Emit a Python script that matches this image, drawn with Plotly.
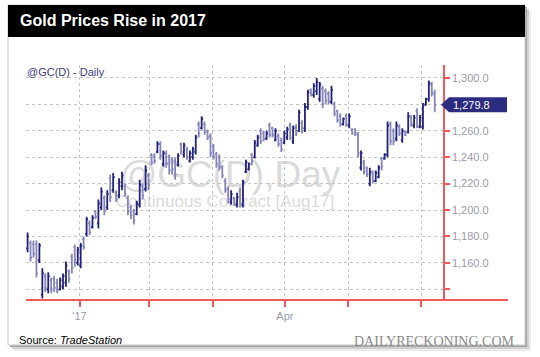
import plotly.graph_objects as go

# ---------------- data ----------------
opens = [1171, 1175, 1174, 1174, 1162, 1136, 1150, 1140, 1147, 1148, 1145, 1140, 1142, 1145, 1154,
         1165, 1172, 1160, 1158, 1178, 1182, 1190, 1187, 1199, 1190, 1202, 1209, 1202, 1224, 1215,
         1213, 1211, 1218, 1218, 1209, 1202, 1199, 1197, 1204, 1218, 1216, 1226, 1242, 1241, 1244,
         1250, 1235, 1243, 1240, 1238, 1237, 1234, 1250, 1242, 1246, 1237, 1240, 1244, 1265, 1262,
         1265, 1260, 1256, 1248, 1242, 1240, 1232, 1222, 1216, 1206, 1209, 1204, 1214, 1204, 1229,
         1231, 1242, 1240, 1249, 1260, 1258, 1254, 1264, 1262, 1253, 1256, 1253, 1251, 1255, 1264,
         1252, 1263, 1260, 1266, 1262, 1278, 1291, 1287, 1290, 1284, 1292, 1290, 1288, 1282, 1280,
         1275, 1271, 1265, 1271, 1264, 1261, 1261, 1257, 1232, 1236, 1232, 1220, 1228, 1222, 1225,
         1239, 1239, 1242, 1265, 1260, 1254, 1263, 1253, 1259, 1259, 1270, 1264, 1275, 1263, 1263,
         1280, 1284, 1295, 1288]
highs = [1183, 1177, 1177, 1177, 1175, 1156, 1152, 1153, 1149, 1150, 1148, 1149, 1152, 1161, 1155,
         1167, 1174, 1172, 1175, 1180, 1195, 1192, 1196, 1200, 1208, 1217, 1211, 1215, 1227, 1228,
         1215, 1224, 1229, 1220, 1211, 1204, 1201, 1207, 1223, 1220, 1234, 1228, 1243, 1243, 1252,
         1252, 1245, 1245, 1242, 1240, 1240, 1243, 1251, 1251, 1248, 1245, 1248, 1257, 1267, 1271,
         1267, 1261, 1258, 1250, 1244, 1242, 1234, 1224, 1218, 1215, 1210, 1213, 1217, 1223, 1238,
         1236, 1243, 1253, 1257, 1262, 1260, 1260, 1266, 1263, 1262, 1258, 1255, 1260, 1263, 1266,
         1264, 1265, 1276, 1268, 1281, 1291, 1292, 1296, 1300, 1297, 1294, 1292, 1290, 1294, 1282,
         1276, 1273, 1270, 1273, 1273, 1262, 1262, 1259, 1245, 1238, 1233, 1232, 1230, 1230, 1234,
         1240, 1243, 1267, 1267, 1262, 1267, 1265, 1262, 1260, 1274, 1272, 1272, 1277, 1272, 1281,
         1285, 1298, 1297, 1291]
lows = [1168, 1161, 1164, 1149, 1160, 1133, 1138, 1137, 1137, 1138, 1137, 1139, 1140, 1142, 1145,
        1152, 1157, 1158, 1156, 1170, 1180, 1181, 1186, 1193, 1186, 1200, 1196, 1200, 1206, 1213,
        1206, 1209, 1215, 1210, 1196, 1193, 1189, 1196, 1202, 1208, 1214, 1215, 1234, 1235, 1243,
        1238, 1233, 1232, 1227, 1227, 1223, 1233, 1242, 1240, 1238, 1236, 1238, 1242, 1255, 1261,
        1257, 1253, 1240, 1238, 1232, 1230, 1224, 1213, 1205, 1204, 1203, 1202, 1202, 1202, 1228,
        1230, 1234, 1239, 1248, 1250, 1252, 1253, 1255, 1255, 1252, 1248, 1244, 1250, 1253, 1253,
        1250, 1256, 1259, 1258, 1259, 1276, 1286, 1285, 1287, 1282, 1277, 1280, 1280, 1280, 1271,
        1266, 1263, 1264, 1263, 1262, 1257, 1256, 1240, 1230, 1227, 1225, 1218, 1220, 1221, 1224,
        1230, 1238, 1240, 1249, 1249, 1252, 1256, 1251, 1256, 1258, 1263, 1262, 1262, 1262, 1261,
        1279, 1282, 1286, 1274]
closes = [1180, 1164, 1167, 1152, 1173, 1152, 1141, 1150, 1140, 1141, 1139, 1147, 1150, 1158, 1148,
          1156, 1162, 1170, 1173, 1172, 1193, 1183, 1194, 1195, 1205, 1214, 1199, 1212, 1210, 1225,
          1208, 1221, 1226, 1212, 1199, 1196, 1192, 1205, 1219, 1211, 1230, 1219, 1236, 1237, 1250,
          1241, 1243, 1235, 1230, 1231, 1227, 1241, 1244, 1249, 1240, 1243, 1246, 1255, 1258, 1269,
          1259, 1255, 1243, 1240, 1235, 1233, 1226, 1215, 1208, 1212, 1205, 1210, 1205, 1221, 1236,
          1235, 1237, 1251, 1255, 1252, 1254, 1258, 1257, 1257, 1260, 1250, 1246, 1258, 1261, 1255,
          1262, 1258, 1274, 1260, 1278, 1289, 1288, 1294, 1297, 1295, 1280, 1283, 1282, 1291, 1273,
          1268, 1265, 1269, 1265, 1271, 1258, 1258, 1243, 1243, 1229, 1227, 1229, 1222, 1228, 1232,
          1233, 1242, 1264, 1252, 1252, 1264, 1258, 1260, 1257, 1271, 1265, 1270, 1264, 1270, 1279,
          1284, 1296, 1289, 1279.8]
bars = list(range(len(closes)))          # trading-day index

month_tick_idx = [17.6, 41.3, 62.7, 87.2, 108.6, 133.5]
month_tick_text = ["'17", "", "", "Apr", "", ""]

price_tick_vals = [1140, 1160, 1180, 1200, 1220, 1240, 1260, 1280, 1300]
price_tick_text = ["", "1,160.0", "1,180.0", "1,200.0", "1,220.0", "1,240.0", "1,260.0", "", "1,300.0"]
last_price = 1279.8
last_price_text = "1,279.8"

# ---------------- layout helpers ----------------
L, R, T, B = 26, 443, 65, 300
W, H = R - L, B - T
Y0, Y1 = 1131.9, 1309.8
X0, X1 = -0.54, 140.8

def px(x):
    return (x - L) / W

def py(y):
    return (B - y) / H

NAVY = "#22227a"
LIGHT = "#8585b8"
RED = "#ee5a5a"
GRID = "#c4c4c4"
FONT = "Liberation Sans, Arial, sans-serif"

fig = go.Figure()
fig.add_trace(go.Ohlc(
    x=bars, open=opens, high=highs, low=lows, close=closes,
    increasing=dict(line=dict(color=NAVY, width=1.8)),
    decreasing=dict(line=dict(color=LIGHT, width=1.8)),
    tickwidth=0.5, hoverinfo="skip", showlegend=False,
))

shapes = []
# card shadow
for off, col in [(6, "#ececec"), (4, "#d0d0d0"), (2, "#a8a8a8")]:
    shapes.append(dict(type="rect", xref="paper", yref="paper", layer="below",
                       x0=px(8 + off), x1=px(525 + off), y0=py(345 + off), y1=py(5 + off),
                       line=dict(width=0), fillcolor=col))
# card
shapes.append(dict(type="rect", xref="paper", yref="paper", layer="below",
                   x0=px(8), x1=px(525), y0=py(345), y1=py(5),
                   line=dict(width=1, color="#c8c8c8"), fillcolor="white"))
# title bar
shapes.append(dict(type="rect", xref="paper", yref="paper", layer="below",
                   x0=px(8), x1=px(525), y0=py(37), y1=py(5),
                   line=dict(width=0), fillcolor="black"))
# watermark
shapes.append(dict(type="rect", xref="paper", yref="paper", layer="below",
                   x0=px(110), x1=px(350), y0=py(188), y1=py(152),
                   line=dict(width=0), fillcolor="rgba(0,0,0,0)",
                   label=dict(text="@GC(D),Day", font=dict(family=FONT, size=37, color="#dadada"),
                              textposition="middle center")))
shapes.append(dict(type="rect", xref="paper", yref="paper", layer="below",
                   x0=px(100), x1=px(350), y0=py(209), y1=py(189),
                   line=dict(width=0), fillcolor="rgba(0,0,0,0)",
                   label=dict(text="Continuous Contract [Aug17]", font=dict(family=FONT, size=17, color="#dadada"),
                              textposition="middle center")))
# bottom axis line, extended under the price labels
shapes.append(dict(type="line", xref="paper", yref="paper", layer="above",
                   x0=px(26), x1=px(508), y0=0, y1=0, line=dict(color=RED, width=2)))
# last price marker
ylp = (last_price - Y0) / (Y1 - Y0)
hh = 7.5 / H
shapes.append(dict(type="path", xref="paper", yref="paper", layer="above",
                   path=f"M {px(441)} {ylp} L {px(449)} {ylp + hh} L {px(507)} {ylp + hh} "
                        f"L {px(507)} {ylp - hh} L {px(449)} {ylp - hh} Z",
                   line=dict(width=0), fillcolor="#2b2b80"))

annotations = [
    dict(text="<b>Gold Prices Rise in 2017</b>", xref="paper", yref="paper", x=px(18), y=py(21),
         xanchor="left", yanchor="middle", showarrow=False, font=dict(family=FONT, size=16, color="white")),
    dict(text="@GC(D) - Daily", xref="paper", yref="paper", x=px(25), y=py(72),
         xanchor="left", yanchor="middle", showarrow=False, font=dict(family=FONT, size=11, color="#3a3a80")),
    dict(text=last_price_text, xref="paper", yref="paper", x=px(451), y=ylp,
         xanchor="left", yanchor="middle", showarrow=False, font=dict(family=FONT, size=11, color="white")),
    dict(text="Source: <i>TradeStation</i>", xref="paper", yref="paper", x=px(17), y=py(340),
         xanchor="left", yanchor="middle", showarrow=False, font=dict(family=FONT, size=11, color="black")),
    dict(text="DAILYRECKONING.COM", xref="paper", yref="paper", x=px(517), y=py(341),
         xanchor="right", yanchor="middle", showarrow=False,
         font=dict(family="Liberation Serif, Times New Roman, serif", size=14, color="#8a8a8a")),
]

fig.update_layout(
    width=540, height=357, autosize=False,
    margin=dict(l=L, r=540 - R, t=T, b=357 - B, pad=0),
    paper_bgcolor="white", plot_bgcolor="rgba(0,0,0,0)",
    shapes=shapes, annotations=annotations, showlegend=False,
    xaxis=dict(range=[X0, X1], rangeslider=dict(visible=False), showline=False, zeroline=False,
               tickmode="array", tickvals=month_tick_idx, ticktext=month_tick_text,
               ticks="outside", ticklen=6, tickwidth=1.5, tickcolor=RED,
               tickfont=dict(family=FONT, size=11, color="#9a9aaa"),
               showgrid=True, gridcolor=GRID, griddash="dot", gridwidth=1),
    yaxis=dict(range=[Y0, Y1], side="right", showline=True, linecolor=RED, linewidth=1.5,
               zeroline=False, tickmode="array", tickvals=price_tick_vals, ticktext=price_tick_text,
               ticks="outside", ticklen=5, tickwidth=1.5, tickcolor=RED,
               tickfont=dict(family=FONT, size=11, color="#9a9aaa"),
               showgrid=True, gridcolor=GRID, griddash="dot", gridwidth=1),
)

fig.write_html("out.html", config={"displayModeBar": False},
               post_script="document.body.style.margin='0';")
